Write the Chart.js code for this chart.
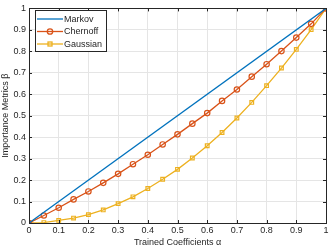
<!DOCTYPE html>
<html>
<head>
<meta charset="utf-8">
<script src="https://cdn.jsdelivr.net/npm/chart.js@4/dist/chart.umd.min.js"></script>
<style>
  html, body { margin: 0; padding: 0; background: #fff; }
  #wrap { width: 332px; height: 249px; }
</style>
</head>
<body>
<div id="wrap"><canvas id="c" width="332" height="249"></canvas></div>
<script>
// datos
const alpha = [0, 0.05, 0.1, 0.15, 0.2, 0.25, 0.3, 0.35, 0.4, 0.45, 0.5,
  0.55, 0.6, 0.65, 0.7, 0.75, 0.8, 0.85, 0.9, 0.95, 1];
const markov = [0, 1];
const markovX = [0, 1];
const chernoff = [0, 0.035, 0.071, 0.11, 0.147, 0.187, 0.229, 0.274, 0.318, 0.366, 0.413,
  0.463, 0.512, 0.569, 0.622, 0.682, 0.74, 0.801, 0.864, 0.928, 1];
const gaussian = [0, 0.002, 0.012, 0.023, 0.039, 0.061, 0.09, 0.122, 0.161, 0.204, 0.25,
  0.303, 0.36, 0.422, 0.489, 0.562, 0.64, 0.722, 0.809, 0.901, 1];
const xTicks = [0, 0.1, 0.2, 0.3, 0.4, 0.5, 0.6, 0.7, 0.8, 0.9, 1];
const yTicks = [0, 0.1, 0.2, 0.3, 0.4, 0.5, 0.6, 0.7, 0.8, 0.9, 1];

const seriesNames = ['Markov', 'Chernoff', 'Gaussian'];
const colors = ['#0072BD', '#D95319', '#EDB120'];
const FONT = 'Liberation Sans, Arial, sans-serif';

const toPts = (xs, ys) => xs.map((x, i) => ({ x: x, y: ys[i] }));

// ticks hacia adentro en los cuatro lados + caja
const boxTicks = {
  id: 'boxTicks',
  afterDraw(chart) {
    const { ctx, chartArea: a, scales } = chart;
    ctx.save();
    ctx.strokeStyle = '#262626';
    ctx.lineWidth = 1;
    ctx.beginPath();
    xTicks.forEach(v => {
      const px = Math.round(scales.x.getPixelForValue(v)) + 0.5;
      ctx.moveTo(px, a.bottom); ctx.lineTo(px, a.bottom - 3);
      ctx.moveTo(px, a.top); ctx.lineTo(px, a.top + 3);
    });
    yTicks.forEach(v => {
      const py = Math.round(scales.y.getPixelForValue(v)) + 0.5;
      ctx.moveTo(a.left, py); ctx.lineTo(a.left + 3, py);
      ctx.moveTo(a.right, py); ctx.lineTo(a.right - 3, py);
    });
    ctx.stroke();
    ctx.strokeRect(Math.round(a.left) + 0.5, Math.round(a.top) + 0.5,
      Math.round(a.right - a.left), Math.round(a.bottom - a.top));
    ctx.restore();
  }
};

// leyenda dentro del area del grafico
const innerLegend = {
  id: 'innerLegend',
  afterDraw(chart) {
    const { ctx } = chart;
    const x0 = 35.5, y0 = 10.5, w = 71, h = 41;
    ctx.save();
    ctx.fillStyle = '#fff';
    ctx.fillRect(x0, y0, w, h);
    ctx.strokeStyle = '#262626';
    ctx.lineWidth = 1;
    ctx.strokeRect(x0, y0, w, h);
    ctx.font = '9px ' + FONT;
    ctx.textBaseline = 'middle';
    seriesNames.forEach((name, i) => {
      const y = 19 + i * 12.5;
      ctx.strokeStyle = colors[i];
      ctx.lineWidth = 1.3;
      ctx.beginPath();
      ctx.moveTo(37, y); ctx.lineTo(63, y);
      ctx.stroke();
      if (i === 1) {
        ctx.beginPath();
        ctx.arc(50, y, 2.7, 0, Math.PI * 2);
        ctx.stroke();
      } else if (i === 2) {
        ctx.strokeRect(48, y - 2, 4, 4);
      }
      ctx.fillStyle = '#262626';
      ctx.fillText(name, 64, y + 0.5);
    });
    ctx.restore();
  }
};

new Chart(document.getElementById('c'), {
  type: 'line',
  data: {
    datasets: [
      {
        label: seriesNames[0],
        data: toPts(markovX, markov),
        borderColor: colors[0],
        borderWidth: 1.3,
        pointRadius: 0,
        fill: false
      },
      {
        label: seriesNames[1],
        data: toPts(alpha, chernoff),
        borderColor: colors[1],
        borderWidth: 1.3,
        pointStyle: 'circle',
        pointRadius: 2.7,
        pointBorderWidth: 1.2,
        pointBackgroundColor: 'rgba(0,0,0,0)',
        pointBorderColor: colors[1],
        fill: false
      },
      {
        label: seriesNames[2],
        data: toPts(alpha, gaussian),
        borderColor: colors[2],
        borderWidth: 1.3,
        pointStyle: 'rect',
        pointRadius: 2.6,
        pointBorderWidth: 1.2,
        pointBackgroundColor: 'rgba(0,0,0,0)',
        pointBorderColor: colors[2],
        fill: false
      }
    ]
  },
  options: {
    responsive: false,
    animation: false,
    devicePixelRatio: 1,
    layout: { padding: { top: 5, right: 6, left: 0, bottom: 0 } },
    plugins: { legend: { display: false }, tooltip: { enabled: false } },
    scales: {
      x: {
        type: 'linear',
        min: 0,
        max: 1,
        afterBuildTicks: s => { s.ticks = xTicks.map(v => ({ value: v })); },
        afterFit: s => { s.height = 26; },
        ticks: {
          color: '#262626',
          font: { family: FONT, size: 9 },
          padding: 2,
          maxRotation: 0,
          callback: v => String(v)
        },
        grid: { color: '#e5e5e5', drawTicks: false },
        border: { display: false },
        title: {
          display: true,
          text: 'Trained Coefficients α',
          color: '#262626',
          font: { family: FONT, size: 9 },
          padding: { top: 0, bottom: 1 }
        }
      },
      y: {
        type: 'linear',
        min: 0,
        max: 1,
        afterBuildTicks: s => { s.ticks = yTicks.map(v => ({ value: v })); },
        afterFit: s => { s.width = 29; },
        ticks: {
          color: '#262626',
          font: { family: FONT, size: 9 },
          padding: 3,
          callback: v => String(v)
        },
        grid: { color: '#e5e5e5', drawTicks: false },
        border: { display: false },
        title: {
          display: true,
          text: 'Importance Metrics β',
          color: '#262626',
          font: { family: FONT, size: 9 },
          padding: { top: 0, bottom: 0 }
        }
      }
    }
  },
  plugins: [boxTicks, innerLegend]
});
</script>
</body>
</html>
